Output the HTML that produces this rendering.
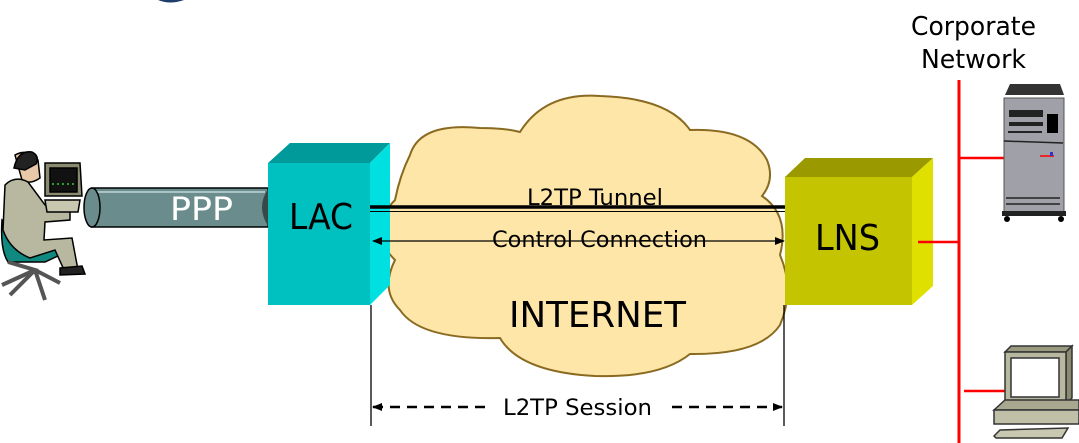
<!DOCTYPE html>
<html><head><meta charset="utf-8"><style>
html,body{margin:0;padding:0;background:#fff;width:1079px;height:443px;overflow:hidden}
svg{display:block}
text{font-family:"DejaVu Sans","Liberation Sans",sans-serif}
</style></head><body>
<svg width="1079" height="443" viewBox="0 0 1079 443" xmlns="http://www.w3.org/2000/svg">
<defs>
<marker id="ah" markerWidth="10" markerHeight="8" refX="9" refY="4" orient="auto" markerUnits="userSpaceOnUse"><path d="M0,0 L10,4 L0,8 z" fill="#000"/></marker>
<marker id="ahs" markerWidth="10" markerHeight="8" refX="1" refY="4" orient="auto" markerUnits="userSpaceOnUse"><path d="M10,0 L0,4 L10,8 z" fill="#000"/></marker>
</defs>
<path d="M158,0 Q170,5 184,0 z" fill="#1f3d6b"/>

<!-- person -->
<g stroke="#000" stroke-width="1.5">
<path d="M2,220 Q0,250 8,262 L45,262 L60,255 L58,250 L30,245 Z" fill="#108a80"/>
<path d="M8,262 L35,270 L10,295 M35,270 L45,300 M35,270 L60,283 M35,270 L2,285" fill="none" stroke="#555" stroke-width="4"/>
<path d="M15,155 Q28,148 38,160 L40,178 Q30,185 22,180 Z" fill="#e8c8a8"/>
<path d="M14,168 Q18,150 32,152 Q40,156 36,164 L25,170 Z" fill="#222"/>
<path d="M5,185 Q15,175 28,182 L45,205 L70,210 L70,220 L45,222 L44,240 L72,238 L78,270 L65,272 L55,250 L30,258 Q10,250 3,230 Z" fill="#b8b8a0"/>
<path d="M60,268 L82,266 L85,274 L60,275 Z" fill="#222"/>
<path d="M45,163 L80,163 L82,196 L45,196 Z" fill="#8a8a70"/>
<path d="M50,168 L77,168 L77,192 L50,192 Z" fill="#111"/>
<path d="M45,200 L80,200 L78,212 L47,212 Z" fill="#c8c8b0"/>
</g>
<line x1="52" y1="184" x2="76" y2="184" stroke="#3c3" stroke-width="1.5" stroke-dasharray="2,3"/>

<!-- PPP tube -->
<rect x="92" y="188" width="176" height="39" fill="#6a8c8c" stroke="#000" stroke-width="1.5"/>
<line x1="95" y1="192" x2="265" y2="192" stroke="#aac4c4" stroke-width="2"/>
<ellipse cx="92" cy="207.5" rx="8" ry="19.5" fill="#6a8c8c" stroke="#000" stroke-width="1.5"/>
<path d="M268,189 Q256,207 268,226 Z" fill="#374848"/>
<text x="170" y="220" font-size="32" fill="#fff" textLength="63" lengthAdjust="spacingAndGlyphs">PPP</text>

<!-- cloud -->
<path d="M520,132 Q545,92 600,96 Q668,98 690,130 Q750,128 767,160 Q775,180 762,196 Q790,215 780,255 Q795,290 780,325 Q760,355 690,354 Q660,378 595,376 Q520,372 500,338 Q420,340 400,310 Q380,290 395,260 Q365,230 395,200 Q400,175 410,155 Q420,122 480,128 Q505,128 520,132 Z" fill="#fde6a8" stroke="#8a6a20" stroke-width="2"/>

<!-- LAC -->
<path d="M268,163 L290,143 L390,143 L370,163 Z" fill="#009a9a"/>
<path d="M370,163 L390,143 L390,285 L370,305 Z" fill="#00e0e0"/>
<rect x="268" y="163" width="102" height="142" fill="#00c0c0"/>
<text x="289" y="229" font-size="36" fill="#000" textLength="64" lengthAdjust="spacingAndGlyphs">LAC</text>

<!-- LNS -->
<path d="M785,177 L805,158 L933,158 L912,177 Z" fill="#9a9a00"/>
<path d="M912,177 L933,158 L933,286 L912,305 Z" fill="#e0e000"/>
<rect x="785" y="177" width="127" height="128" fill="#c4c400"/>
<text x="815" y="250" font-size="36" fill="#000" textLength="65" lengthAdjust="spacingAndGlyphs">LNS</text>

<!-- tunnel -->
<line x1="370" y1="207" x2="785" y2="207" stroke="#000" stroke-width="3.5"/>
<line x1="370" y1="211.5" x2="785" y2="211.5" stroke="#000" stroke-width="1"/>
<text x="527" y="205" font-size="22" fill="#000" textLength="136" lengthAdjust="spacingAndGlyphs">L2TP Tunnel</text>
<text x="492" y="247" font-size="22" fill="#000" textLength="215" lengthAdjust="spacingAndGlyphs">Control Connection</text>
<line x1="373" y1="241" x2="784" y2="241" stroke="#000" stroke-width="1.3" marker-start="url(#ahs)" marker-end="url(#ah)"/>
<text x="509" y="327" font-size="36" fill="#000" textLength="177" lengthAdjust="spacingAndGlyphs">INTERNET</text>

<!-- session -->
<line x1="371" y1="305" x2="371" y2="426" stroke="#000" stroke-width="1.3"/>
<line x1="784" y1="305" x2="784" y2="426" stroke="#000" stroke-width="1.3"/>
<line x1="373" y1="407" x2="490" y2="407" stroke="#000" stroke-width="2.5" stroke-dasharray="10,7" marker-start="url(#ahs)"/>
<line x1="672" y1="407" x2="782" y2="407" stroke="#000" stroke-width="2.5" stroke-dasharray="10,7" marker-end="url(#ah)"/>
<text x="503" y="415" font-size="22" fill="#000" textLength="149" lengthAdjust="spacingAndGlyphs">L2TP Session</text>

<!-- corporate network -->
<text x="911" y="35" font-size="26" fill="#000" textLength="125" lengthAdjust="spacingAndGlyphs">Corporate</text>
<text x="921" y="68" font-size="26" fill="#000" textLength="105" lengthAdjust="spacingAndGlyphs">Network</text>
<line x1="959" y1="80" x2="959" y2="443" stroke="#f00" stroke-width="3"/>
<line x1="959" y1="158" x2="1005" y2="158" stroke="#f00" stroke-width="2.5"/>
<line x1="918" y1="242" x2="959" y2="242" stroke="#f00" stroke-width="2.5"/>
<line x1="964" y1="391" x2="1010" y2="391" stroke="#f00" stroke-width="2.5"/>

<!-- server -->
<path d="M1005,95 L1010,84 L1060,84 L1064,95 Z" fill="#333"/>
<rect x="1004" y="98" width="60" height="114" fill="#a0a0a8" stroke="#555" stroke-width="1"/>
<rect x="1009" y="110" width="34" height="7" fill="#222"/>
<rect x="1009" y="122" width="34" height="4" fill="#222"/>
<rect x="1047" y="114" width="11" height="19" fill="#000"/>
<rect x="1008" y="131" width="34" height="2" fill="#222"/>
<line x1="1004" y1="141" x2="1063" y2="143" stroke="#222" stroke-width="1.5"/>
<line x1="1040" y1="156" x2="1054" y2="156" stroke="#f00" stroke-width="1.5"/>
<rect x="1050" y="152" width="3" height="4" fill="#33c"/>
<line x1="1006" y1="198" x2="1060" y2="198" stroke="#222" stroke-width="1.5"/>
<line x1="1006" y1="204" x2="1060" y2="204" stroke="#222" stroke-width="1.5"/>
<rect x="1002" y="211" width="64" height="5" fill="#222"/>
<circle cx="1007" cy="219" r="3" fill="#000"/><circle cx="1061" cy="219" r="3" fill="#000"/>

<!-- PC -->
<g stroke="#333" stroke-width="1.5">
<path d="M1005,352 L1011,346 L1072,346 L1066,352 Z" fill="#9a9a80"/>
<path d="M1066,352 L1072,346 L1072,398 L1066,404 Z" fill="#8a8a70"/>
<rect x="1005" y="352" width="61" height="52" fill="#b8b8a0"/>
<rect x="1011" y="358" width="48" height="39" fill="#fff"/>
<path d="M994,410 L1005,400 L1079,400 L1079,410 Z" fill="#a8a890"/>
<rect x="994" y="410" width="85" height="14" fill="#c0c0a8"/>
<path d="M994,436 L1000,430 L1068,428 L1062,438 L996,438 Z" fill="#c8c8b0"/>
</g>
</svg>
</body></html>
